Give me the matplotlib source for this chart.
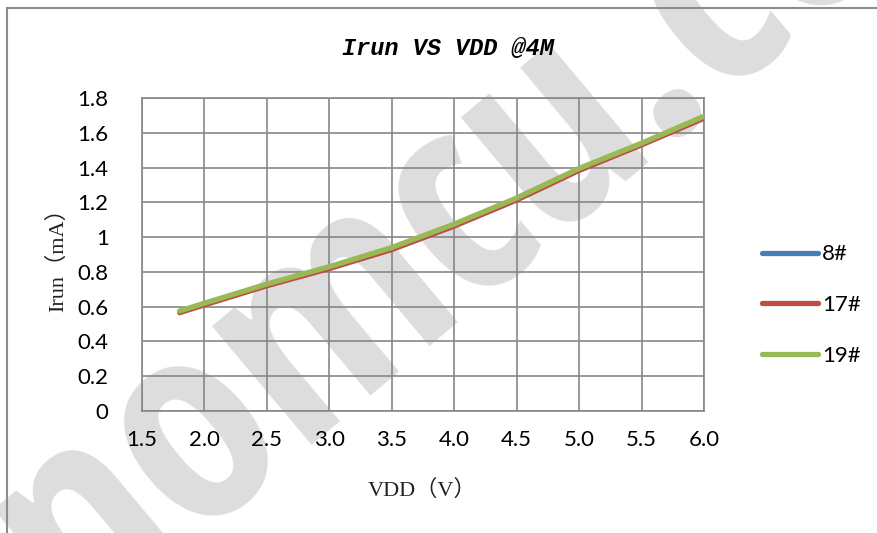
import matplotlib
matplotlib.use("Agg")
import matplotlib.pyplot as plt
from matplotlib.patches import Rectangle
from matplotlib.lines import Line2D

# ---- data ----
vdd = [1.8, 2.0, 2.5, 3.0, 3.5, 4.0, 4.5, 5.0, 5.5, 6.0]
irun_8 = [0.570, 0.615, 0.725, 0.825, 0.935, 1.070, 1.220, 1.390, 1.535, 1.690]
irun_17 = [0.562, 0.607, 0.717, 0.816, 0.925, 1.060, 1.210, 1.380, 1.527, 1.680]
irun_19 = [0.575, 0.620, 0.730, 0.830, 0.940, 1.075, 1.225, 1.395, 1.540, 1.695]
series_names = ["8#", "17#", "19#"]
x_ticks = [1.5, 2.0, 2.5, 3.0, 3.5, 4.0, 4.5, 5.0, 5.5, 6.0]
x_ticklabels = ["1.5", "2.0", "2.5", "3.0", "3.5", "4.0", "4.5", "5.0", "5.5", "6.0"]
y_ticks = [0, 0.2, 0.4, 0.6, 0.8, 1.0, 1.2, 1.4, 1.6, 1.8]
y_ticklabels = ["0", "0.2", "0.4", "0.6", "0.8", "1", "1.2", "1.4", "1.6", "1.8"]
title = "Irun VS VDD @4M"
xlabel = "VDD（V）"
ylabel = "Irun（mA）"
watermark = "sinomcu.com"

W, H = 877, 533
fig = plt.figure(figsize=(W / 100, H / 100), dpi=100)
fig.patch.set_facecolor("white")

# watermark behind everything
fig.text(463 / W, 1 - 214 / H, watermark, rotation=40, fontsize=205,
         fontweight="bold", family=["Open Sans Condensed", "Liberation Sans"],
         color="#dddddd", ha="center", va="center", rotation_mode="anchor", zorder=-1)

# outer border of the chart area
fig.add_artist(Rectangle((7 / W, -0.2), 1.5, 1.2 - 8 / H,
                         transform=fig.transFigure, fill=False,
                         edgecolor="#8c8c8c", linewidth=1.5, zorder=-0.5))

ax = fig.add_axes([142 / W, 1 - 411 / H, (704 - 142) / W, (411 - 98) / H])
ax.set_facecolor("none")

grid_c = "#878787"
ax.set_xlim(1.5, 6.0)
ax.set_ylim(0, 1.8)
ax.set_xticks(x_ticks)
ax.set_xticklabels(x_ticklabels)
ax.set_yticks(y_ticks)
ax.set_yticklabels(y_ticklabels)
ax.grid(True, color=grid_c, linewidth=1.2)
ax.set_axisbelow(True)
for s in ax.spines.values():
    s.set_color(grid_c)
    s.set_linewidth(1.2)
ax.tick_params(length=0, labelsize=16, pad=14)
ax.tick_params(axis="y", pad=24)
for lab in ax.get_xticklabels() + ax.get_yticklabels():
    lab.set_family("Lato")

c8, c17, c19 = "#4a7ebb", "#be4b48", "#98b954"
l8, = ax.plot(vdd, irun_8, color=c8, lw=3.6, solid_capstyle="round", zorder=3)
l17, = ax.plot(vdd, irun_17, color=c17, lw=3.0, solid_capstyle="round", zorder=4)
l19, = ax.plot(vdd, irun_19, color=c19, lw=3.8, solid_capstyle="round", zorder=5)

handles = [Line2D([], [], color=c, lw=3.8, solid_capstyle="round") for c in (c8, c17, c19)]
leg = ax.legend(handles, series_names, loc="center left",
                bbox_to_anchor=(762 / W, 1 - 305 / H), bbox_transform=fig.transFigure,
                frameon=False, prop={"family": "Lato", "size": 16},
                handlelength=2.5, handletextpad=0.2, labelspacing=1.38,
                borderaxespad=0, borderpad=0)

fig.text(448 / W, 1 - 48 / H, title, ha="center", va="center",
         family="Liberation Mono", style="italic", fontweight="bold", fontsize=17)
fig.text(422 / W, 1 - 490 / H, xlabel, ha="center", va="center",
         family=["Liberation Serif", "Noto Sans CJK SC"], fontsize=16, color="#222222")
fig.text(58 / W, 1 - 255 / H, ylabel, ha="center", va="center", rotation=90,
         family=["Liberation Serif", "Noto Sans CJK SC"], fontsize=16, color="#222222")

fig.savefig("out.png", dpi=100)
